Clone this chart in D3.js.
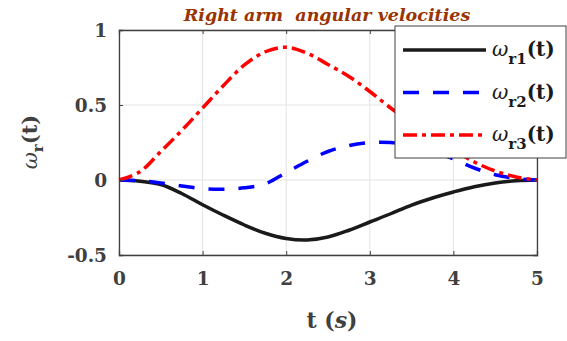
<!DOCTYPE html>
<html>
<head>
<meta charset="utf-8">
<script src="https://cdn.jsdelivr.net/npm/d3@7"></script>
<style>
  body { margin: 0; background: #fff; }
  text { font-family: "DejaVu Serif", serif; font-weight: bold; }
</style>
</head>
<body>
<script>
// sample times (s)
var times = [0, 0.25, 0.5, 0.75, 1, 1.25, 1.5, 1.75, 2, 2.25, 2.5, 2.75, 3, 3.25, 3.5, 3.75, 4, 4.25, 4.5, 4.75, 5];
// angular velocities
var wr1 = [0, -0.008, -0.03, -0.09, -0.165, -0.235, -0.3, -0.355, -0.39, -0.4, -0.38, -0.335, -0.28, -0.225, -0.167, -0.12, -0.08, -0.045, -0.02, -0.005, 0];
var wr2 = [0, -0.005, -0.02, -0.04, -0.058, -0.062, -0.052, -0.025, 0.05, 0.125, 0.19, 0.23, 0.25, 0.25, 0.23, 0.19, 0.14, 0.08, 0.035, 0.01, 0];
var wr3 = [0, 0.055, 0.19, 0.33, 0.48, 0.63, 0.767, 0.855, 0.885, 0.845, 0.77, 0.69, 0.59, 0.48, 0.38, 0.285, 0.2, 0.12, 0.06, 0.02, 0];

var xTicks = [0, 1, 2, 3, 4, 5];
var yTicks = [-0.5, 0, 0.5, 1];
var yTickLabels = ["-0.5", "0", "0.5", "1"];
var seriesNames = ["r1", "r2", "r3"];
var seriesColors = ["#1a1a1a", "#0000ff", "#ff0000"];
var seriesDash = [null, "16,14", "14,5,4,5"];

var W = 567, H = 341;
var margin = {top: 30, right: 30, bottom: 86, left: 119};
var width = W - margin.left - margin.right,
    height = H - margin.top - margin.bottom;

var svg = d3.select("body").append("svg")
    .attr("width", W)
    .attr("height", H);

var g = svg.append("g")
    .attr("transform", "translate(" + margin.left + "," + margin.top + ")");

var x = d3.scaleLinear().domain([0, 5]).range([0, width]);
var y = d3.scaleLinear().domain([-0.5, 1]).range([height, 0]);

// grid
g.append("g").selectAll("line").data(xTicks).enter().append("line")
    .attr("x1", x).attr("x2", x).attr("y1", 0).attr("y2", height)
    .attr("stroke", "#e3e3e3").attr("stroke-width", 1);
g.append("g").selectAll("line").data(yTicks).enter().append("line")
    .attr("y1", y).attr("y2", y).attr("x1", 0).attr("x2", width)
    .attr("stroke", "#e3e3e3").attr("stroke-width", 1);

// curves
var allSeries = [wr1, wr2, wr3];
var line = d3.line()
    .x(function(d) { return x(d[0]); })
    .y(function(d) { return y(d[1]); })
    .curve(d3.curveCatmullRom);

allSeries.forEach(function(s, i) {
  g.append("path")
    .datum(times.map(function(t, k) { return [t, s[k]]; }))
    .attr("fill", "none")
    .attr("stroke", seriesColors[i])
    .attr("stroke-width", 3.5)
    .attr("stroke-dasharray", seriesDash[i])
    .attr("d", line);
});

// axes
var xAxis = d3.axisBottom(x).tickValues(xTicks).tickSize(-4).tickPadding(15).tickFormat(d3.format("d"));
var yAxis = d3.axisLeft(y).tickValues(yTicks).tickSize(-4).tickPadding(12)
    .tickFormat(function(d, i) { return yTickLabels[i]; });

var xa = g.append("g").attr("transform", "translate(0," + height + ")").call(xAxis);
var ya = g.append("g").call(yAxis);
var xt = g.append("g").call(d3.axisTop(x).tickValues(xTicks).tickSize(-4).tickFormat(""));
var yr = g.append("g").attr("transform", "translate(" + width + ",0)")
    .call(d3.axisRight(y).tickValues(yTicks).tickSize(-4).tickFormat(""));

[xa, ya, xt, yr].forEach(function(a) {
  a.selectAll("path").attr("stroke", "#404040").attr("stroke-width", 1.3);
  a.selectAll("line").attr("stroke", "#404040");
  a.selectAll("text").attr("fill", "#404040").style("font-size", "18.5px")
    .style("font-family", "'DejaVu Serif', serif").style("font-weight", "bold");
});
xa.selectAll("text").attr("dy", "0.8em");
ya.selectAll("text").attr("dy", "0.36em");

// title
svg.append("text")
    .attr("x", 327).attr("y", 20.5)
    .attr("text-anchor", "middle")
    .attr("fill", "#993300")
    .style("font-size", "17.5px")
    .style("font-style", "italic")
    .attr("xml:space", "preserve")
    .text("Right arm  angular velocities");

// x label
var xl = svg.append("text")
    .attr("x", 332).attr("y", 328)
    .attr("text-anchor", "middle")
    .attr("fill", "#404040")
    .style("font-size", "22px");
xl.append("tspan").text("t (");
xl.append("tspan").style("font-style", "italic").text("s");
xl.append("tspan").text(")");

// y label
var yl = svg.append("text")
    .attr("transform", "translate(37,142) rotate(-90)")
    .attr("text-anchor", "middle")
    .attr("fill", "#404040")
    .style("font-size", "21px");
yl.append("tspan").style("font-style", "italic").style("font-weight", "normal").text("ω");
yl.append("tspan").attr("dy", 6).style("font-size", "15px").text("r");
yl.append("tspan").attr("dy", -6).text("(t)");

// legend
var lg = svg.append("g").attr("transform", "translate(395,26)");
lg.append("rect")
    .attr("x", 0).attr("y", 0).attr("width", 171).attr("height", 132)
    .attr("fill", "#fff").attr("stroke", "#404040").attr("stroke-width", 1);

seriesNames.forEach(function(n, i) {
  var cy = 24 + i * 42.5;
  lg.append("line")
    .attr("x1", 8).attr("x2", 91).attr("y1", cy).attr("y2", cy)
    .attr("stroke", seriesColors[i]).attr("stroke-width", 3.5)
    .attr("stroke-dasharray", seriesDash[i]);
  var t = lg.append("text")
    .attr("x", 97).attr("y", cy + 6)
    .attr("fill", "#1a1a1a")
    .style("font-size", "20px");
  t.append("tspan").style("font-style", "italic").style("font-weight", "normal").text("ω");
  t.append("tspan").attr("dy", 8).style("font-size", "15px").text(n);
  t.append("tspan").attr("dy", -8).text("(t)");
});
</script>
</body>
</html>
